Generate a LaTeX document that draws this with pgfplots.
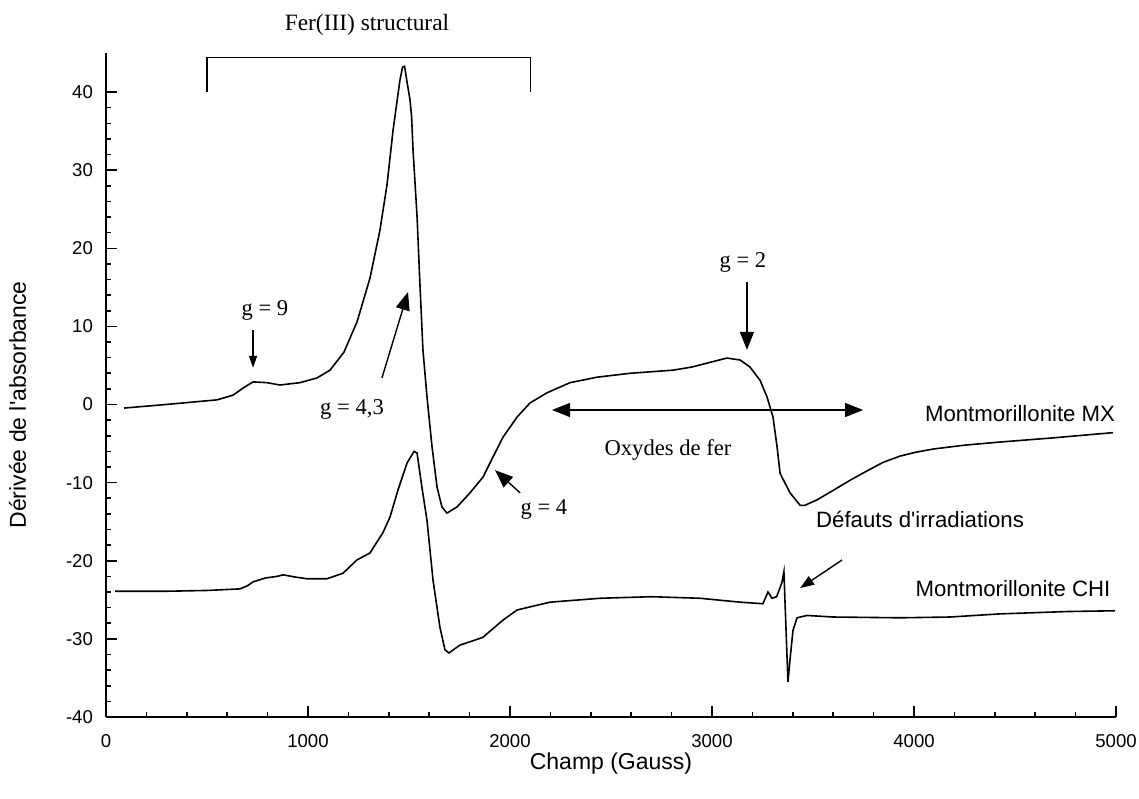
\documentclass[border=0pt]{standalone}
\usepackage{pgfplots}
\pgfplotsset{compat=1.18}
\usepackage{fontspec}
\setmainfont{Liberation Sans}
\newfontfamily\tms{Liberation Serif}
\usetikzlibrary{arrows.meta}

% RPE spectra
\pgfplotstableread{
x y
90 -0.45
250 -0.1
381 0.2
550 0.6
629 1.2
678 2.1
728 2.9
797 2.8
861 2.5
960 2.8
1044 3.4
1109 4.4
1178 6.7
1243 10.6
1307 16.2
1356 22.3
1391 28.1
1421 35.1
1455 41.5
1468 43.2
1478 43.3
1489 41.5
1505 39
1513 36.8
1520 32.6
1540 24
1554 15.5
1569 7
1589 1
1614 -5.4
1639 -10.6
1663 -13.1
1688 -13.9
1738 -13.1
1802 -11.3
1866 -9.3
1916 -6.7
1965 -4.2
2035 -1.6
2099 0.2
2183 1.5
2297 2.8
2431 3.5
2594 4.0
2807 4.4
2900 4.8
2990 5.4
3074 5.95
3139 5.7
3188 4.8
3238 3.1
3272 1
3302 -1.6
3322 -5.4
3337 -8.8
3386 -11.3
3436 -12.9
3460 -12.9
3520 -12.2
3599 -11.0
3683 -9.7
3767 -8.5
3847 -7.4
3931 -6.6
4010 -6.1
4094 -5.7
4250 -5.2
4426 -4.8
4673 -4.3
4985 -3.6
}\mx

\pgfplotstableread{
x y
45 -23.9
300 -23.9
500 -23.8
663 -23.6
700 -23.2
728 -22.7
790 -22.2
846 -22.0
877 -21.8
940 -22.1
995 -22.3
1094 -22.3
1173 -21.6
1242 -19.9
1307 -19.0
1371 -16.4
1406 -14.4
1446 -10.9
1490 -7.5
1525 -6.0
1540 -6.2
1564 -10.6
1589 -14.8
1619 -22.5
1653 -28.5
1678 -31.4
1698 -31.8
1752 -30.8
1866 -29.8
1965 -27.6
2035 -26.3
2198 -25.3
2446 -24.8
2700 -24.6
2941 -24.8
3139 -25.3
3252 -25.5
3277 -24.0
3297 -24.8
3320 -24.6
3346 -22.8
3356 -21.4
3366 -28.5
3376 -35.5
3386 -32.7
3401 -28.9
3421 -27.3
3470 -27.0
3599 -27.2
3931 -27.3
4178 -27.2
4426 -26.8
4757 -26.5
4995 -26.4
}\chi

\begin{document}
\begin{tikzpicture}
\path[use as bounding box] (-53pt,-40.5pt) rectangle (516.5pt,358.5pt);
\begin{axis}[
  scale only axis,
  width=505pt, height=332pt,
  xmin=0, xmax=5000, ymin=-40, ymax=45,
  axis x line*=bottom, axis y line*=left,
  axis line style={line width=0.9pt},
  xtick={0,1000,...,5000}, ytick={-40,-30,...,40},
  minor x tick num=4, minor y tick num=4,
  tick align=inside,
  major tick length=5.3pt, minor tick length=2.6pt,
  every tick/.style={line width=0.8pt, black},
  tick label style={font=\fontsize{9.3}{11}\selectfont},
  /pgf/number format/assume math mode=true,
  /pgf/number format/set thousands separator={},
  xticklabel style={yshift=-5pt},
  yticklabel style={xshift=-3pt},
  xlabel={Champ (Gauss)},
  xlabel style={font=\fontsize{11.5}{13}\selectfont, at={(axis description cs:0.5,0)}, anchor=base, yshift=-26pt},
  ylabel={Dérivée de l\textquotesingle absorbance},
  ylabel style={font=\fontsize{11.5}{13}\selectfont, at={(axis description cs:-0.0793,0.47)}, anchor=base},
  clip=false,
]
\addplot[black, line width=0.8pt] table[x=x,y=y] {\mx};
\addplot[black, line width=0.8pt] table[x=x,y=y] {\chi};

% Fer(III) bracket
\draw[line width=0.7pt] (axis cs:500,40) -- (axis cs:500,44.4) -- (axis cs:2100,44.4) -- (axis cs:2100,40);
\node[font=\tms\fontsize{11.7}{13}\selectfont] at (axis cs:1292,48.6) {Fer(III) structural};

% g labels and arrows
\node[font=\tms\fontsize{11.3}{13}\selectfont] at (axis cs:787,12.1) {g = 9};
\draw[line width=0.7pt, -{Triangle[length=6pt,width=4pt]}] (axis cs:728,9.5) -- (axis cs:728,4.7);
\node[font=\tms\fontsize{11.3}{13}\selectfont] at (axis cs:1218,-0.6) {g = 4,3};
\draw[line width=0.7pt, -{Triangle[length=9pt,width=7pt]}] (axis cs:1366,3.4) -- (axis cs:1495,14.4);
\node[font=\tms\fontsize{11.3}{13}\selectfont] at (axis cs:2168,-13.4) {g = 4};
\draw[line width=0.7pt, -{Triangle[length=9pt,width=7pt]}] (axis cs:2050,-11.3) -- (axis cs:1926,-8.4);
\node[font=\tms\fontsize{11.3}{13}\selectfont] at (axis cs:3153,18.2) {g = 2};
\draw[line width=0.7pt, -{Triangle[length=9pt,width=7pt]}] (axis cs:3173,15.7) -- (axis cs:3173,7.0);

% oxydes de fer
\draw[line width=0.7pt, {Triangle[length=9pt,width=7pt]}-{Triangle[length=9pt,width=7pt]}] (axis cs:2208,-0.7) -- (axis cs:3748,-0.7);
\node[font=\tms\fontsize{11.3}{13}\selectfont] at (axis cs:2782,-5.8) {Oxydes de fer};

% sample names
\node[font=\fontsize{11.1}{13}\selectfont] at (axis cs:4525,-1.2) {Montmorillonite MX};
\node[font=\fontsize{11.1}{13}\selectfont] at (axis cs:4490,-23.5) {Montmorillonite CHI};
\node[font=\fontsize{11.1}{13}\selectfont] at (axis cs:4030,-14.7) {Défauts d\textquotesingle irradiations};
\draw[line width=0.7pt, -{Triangle[length=7pt,width=5pt]}] (axis cs:3644,-19.9) -- (axis cs:3436,-23.5);
\end{axis}
\end{tikzpicture}
\end{document}
